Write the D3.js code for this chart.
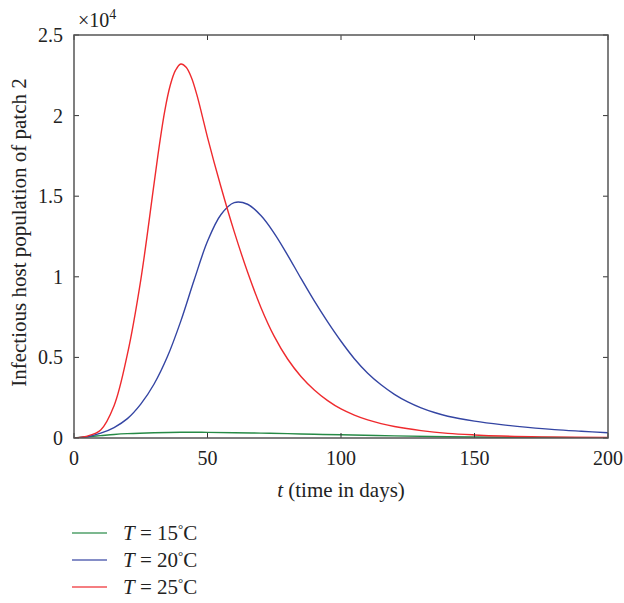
<!DOCTYPE html>
<html>
<head>
<meta charset="utf-8">
<script src="https://cdn.jsdelivr.net/npm/d3@7"></script>
<style>
  body { margin: 0; background: #fff; }
  text { font-family: "Liberation Serif", "DejaVu Serif", serif; fill: #222; }
</style>
</head>
<body>
<div id="chart"></div>
<script>
// Define svg size
var svgWidth = 624;
var svgHeight = 603;

// plot box
var margin = { top: 35, right: 16, bottom: 165, left: 74 };
var width = svgWidth - margin.left - margin.right;
var height = svgHeight - margin.top - margin.bottom;

// data (values in units of 10^4)
var tRed = [0, 5, 10, 15, 20, 25, 30, 32, 34, 36, 38, 40, 42, 44, 46, 48, 50, 55, 60, 65, 70, 75, 80, 85, 90, 95, 100, 105, 110, 115, 120, 130, 140, 150, 160, 175, 200];
var vRed = [0, 0.012, 0.05, 0.2, 0.52, 0.98, 1.58, 1.82, 2.03, 2.185, 2.28, 2.32, 2.30, 2.235, 2.13, 2.0, 1.865, 1.56, 1.28, 1.03, 0.81, 0.63, 0.49, 0.382, 0.298, 0.232, 0.18, 0.142, 0.112, 0.089, 0.071, 0.046, 0.029, 0.019, 0.012, 0.007, 0.003];

var tBlue = [0, 5, 10, 15, 20, 25, 30, 35, 40, 45, 50, 55, 60, 65, 70, 75, 80, 85, 90, 95, 100, 105, 110, 115, 120, 125, 130, 135, 140, 150, 160, 170, 180, 190, 200];
var vBlue = [0, 0.008, 0.03, 0.065, 0.12, 0.21, 0.335, 0.505, 0.725, 0.98, 1.22, 1.385, 1.46, 1.45, 1.38, 1.27, 1.135, 0.99, 0.85, 0.72, 0.60, 0.492, 0.402, 0.33, 0.271, 0.224, 0.187, 0.158, 0.135, 0.105, 0.083, 0.066, 0.052, 0.042, 0.033];

var tGreen = [0, 5, 10, 15, 20, 30, 40, 50, 60, 70, 80, 90, 100, 120, 140, 160, 180, 200];
var vGreen = [0, 0.008, 0.015, 0.022, 0.027, 0.033, 0.036, 0.035, 0.033, 0.03, 0.027, 0.023, 0.02, 0.013, 0.008, 0.005, 0.003, 0.002];

var xTicks = [0, 50, 100, 150, 200];
var yTicks = [0, 0.5, 1, 1.5, 2, 2.5];

var seriesNames = ["15", "20", "25"];
var seriesColors = ["#268a46", "#3445a3", "#ef2a2e"];

var svg = d3.select("#chart")
  .append("svg")
  .attr("width", svgWidth)
  .attr("height", svgHeight);

var chartGroup = svg.append("g")
  .attr("transform", `translate(${margin.left}, ${margin.top})`);

var xScale = d3.scaleLinear().domain([0, 200]).range([0, width]);
var yScale = d3.scaleLinear().domain([0, 2.5]).range([height, 0]);

var axisColor = "#555";

// lines
var line = d3.line()
  .x(d => xScale(d[0]))
  .y(d => yScale(d[1]))
  .curve(d3.curveCatmullRom.alpha(0.5));

var series = [
  { t: tGreen, v: vGreen, color: seriesColors[0] },
  { t: tBlue, v: vBlue, color: seriesColors[1] },
  { t: tRed, v: vRed, color: seriesColors[2] }
];

// keep curves inside the box
svg.append("defs").append("clipPath").attr("id", "clip")
  .append("rect").attr("x", 0).attr("y", 0).attr("width", width).attr("height", height);

series.forEach(function(s) {
  chartGroup.append("path")
    .datum(d3.zip(s.t, s.v))
    .attr("clip-path", "url(#clip)")
    .attr("fill", "none")
    .attr("stroke", s.color)
    .attr("stroke-width", 1.4)
    .attr("d", line);
});

// ticks inside, on all four sides
var tickLen = 5;
xTicks.forEach(function(t) {
  var x = xScale(t);
  chartGroup.append("line").attr("x1", x).attr("x2", x).attr("y1", height).attr("y2", height - tickLen)
    .attr("stroke", "#333").attr("stroke-width", 1);
  chartGroup.append("line").attr("x1", x).attr("x2", x).attr("y1", 0).attr("y2", tickLen)
    .attr("stroke", "#333").attr("stroke-width", 1);
  chartGroup.append("text")
    .attr("x", x).attr("y", height + 27)
    .attr("text-anchor", "middle")
    .style("font-size", "20px")
    .text(t);
});

yTicks.forEach(function(v) {
  var y = yScale(v);
  chartGroup.append("line").attr("x1", 0).attr("x2", tickLen).attr("y1", y).attr("y2", y)
    .attr("stroke", "#333").attr("stroke-width", 1);
  chartGroup.append("line").attr("x1", width).attr("x2", width - tickLen).attr("y1", y).attr("y2", y)
    .attr("stroke", "#333").attr("stroke-width", 1);
  chartGroup.append("text")
    .attr("x", -11).attr("y", y + 7)
    .attr("text-anchor", "end")
    .style("font-size", "20px")
    .text(v);
});

// box
chartGroup.append("rect")
  .attr("x", 0).attr("y", 0)
  .attr("width", width).attr("height", height)
  .attr("fill", "none")
  .attr("stroke", axisColor)
  .attr("stroke-width", 1.5);

// exponent label
var expText = chartGroup.append("text")
  .attr("x", 4).attr("y", -8)
  .style("font-size", "20px");
expText.append("tspan").text("\u00d710");
expText.append("tspan").attr("dy", -8).style("font-size", "14px").text("4");

// x axis label
var xLabel = chartGroup.append("text")
  .attr("x", width / 2).attr("y", height + 59)
  .attr("text-anchor", "middle")
  .style("font-size", "21px");
xLabel.append("tspan").style("font-style", "italic").text("t");
xLabel.append("tspan").text(" (time in days)");

// y axis label
chartGroup.append("text")
  .attr("transform", "rotate(-90)")
  .attr("x", -height / 2 + 4).attr("y", -48)
  .attr("text-anchor", "middle")
  .style("font-size", "21px")
  .text("Infectious host population of patch 2");

// legend
var legend = svg.append("g").attr("transform", "translate(72, 533)");
seriesNames.forEach(function(name, i) {
  var g = legend.append("g").attr("transform", `translate(0, ${i * 27})`);
  g.append("line")
    .attr("x1", 0).attr("x2", 35).attr("y1", 0).attr("y2", 0)
    .attr("stroke", seriesColors[i]).attr("stroke-width", 1.6).attr("opacity", 0.8);
  var txt = g.append("text").attr("x", 51).attr("y", 7).style("font-size", "21px");
  txt.append("tspan").style("font-style", "italic").text("T");
  txt.append("tspan").text(" = " + name);
  txt.append("tspan").attr("dy", -7).style("font-size", "13px").text("\u00b0");
  txt.append("tspan").attr("dy", 7).text("C");
});
</script>
</body>
</html>
